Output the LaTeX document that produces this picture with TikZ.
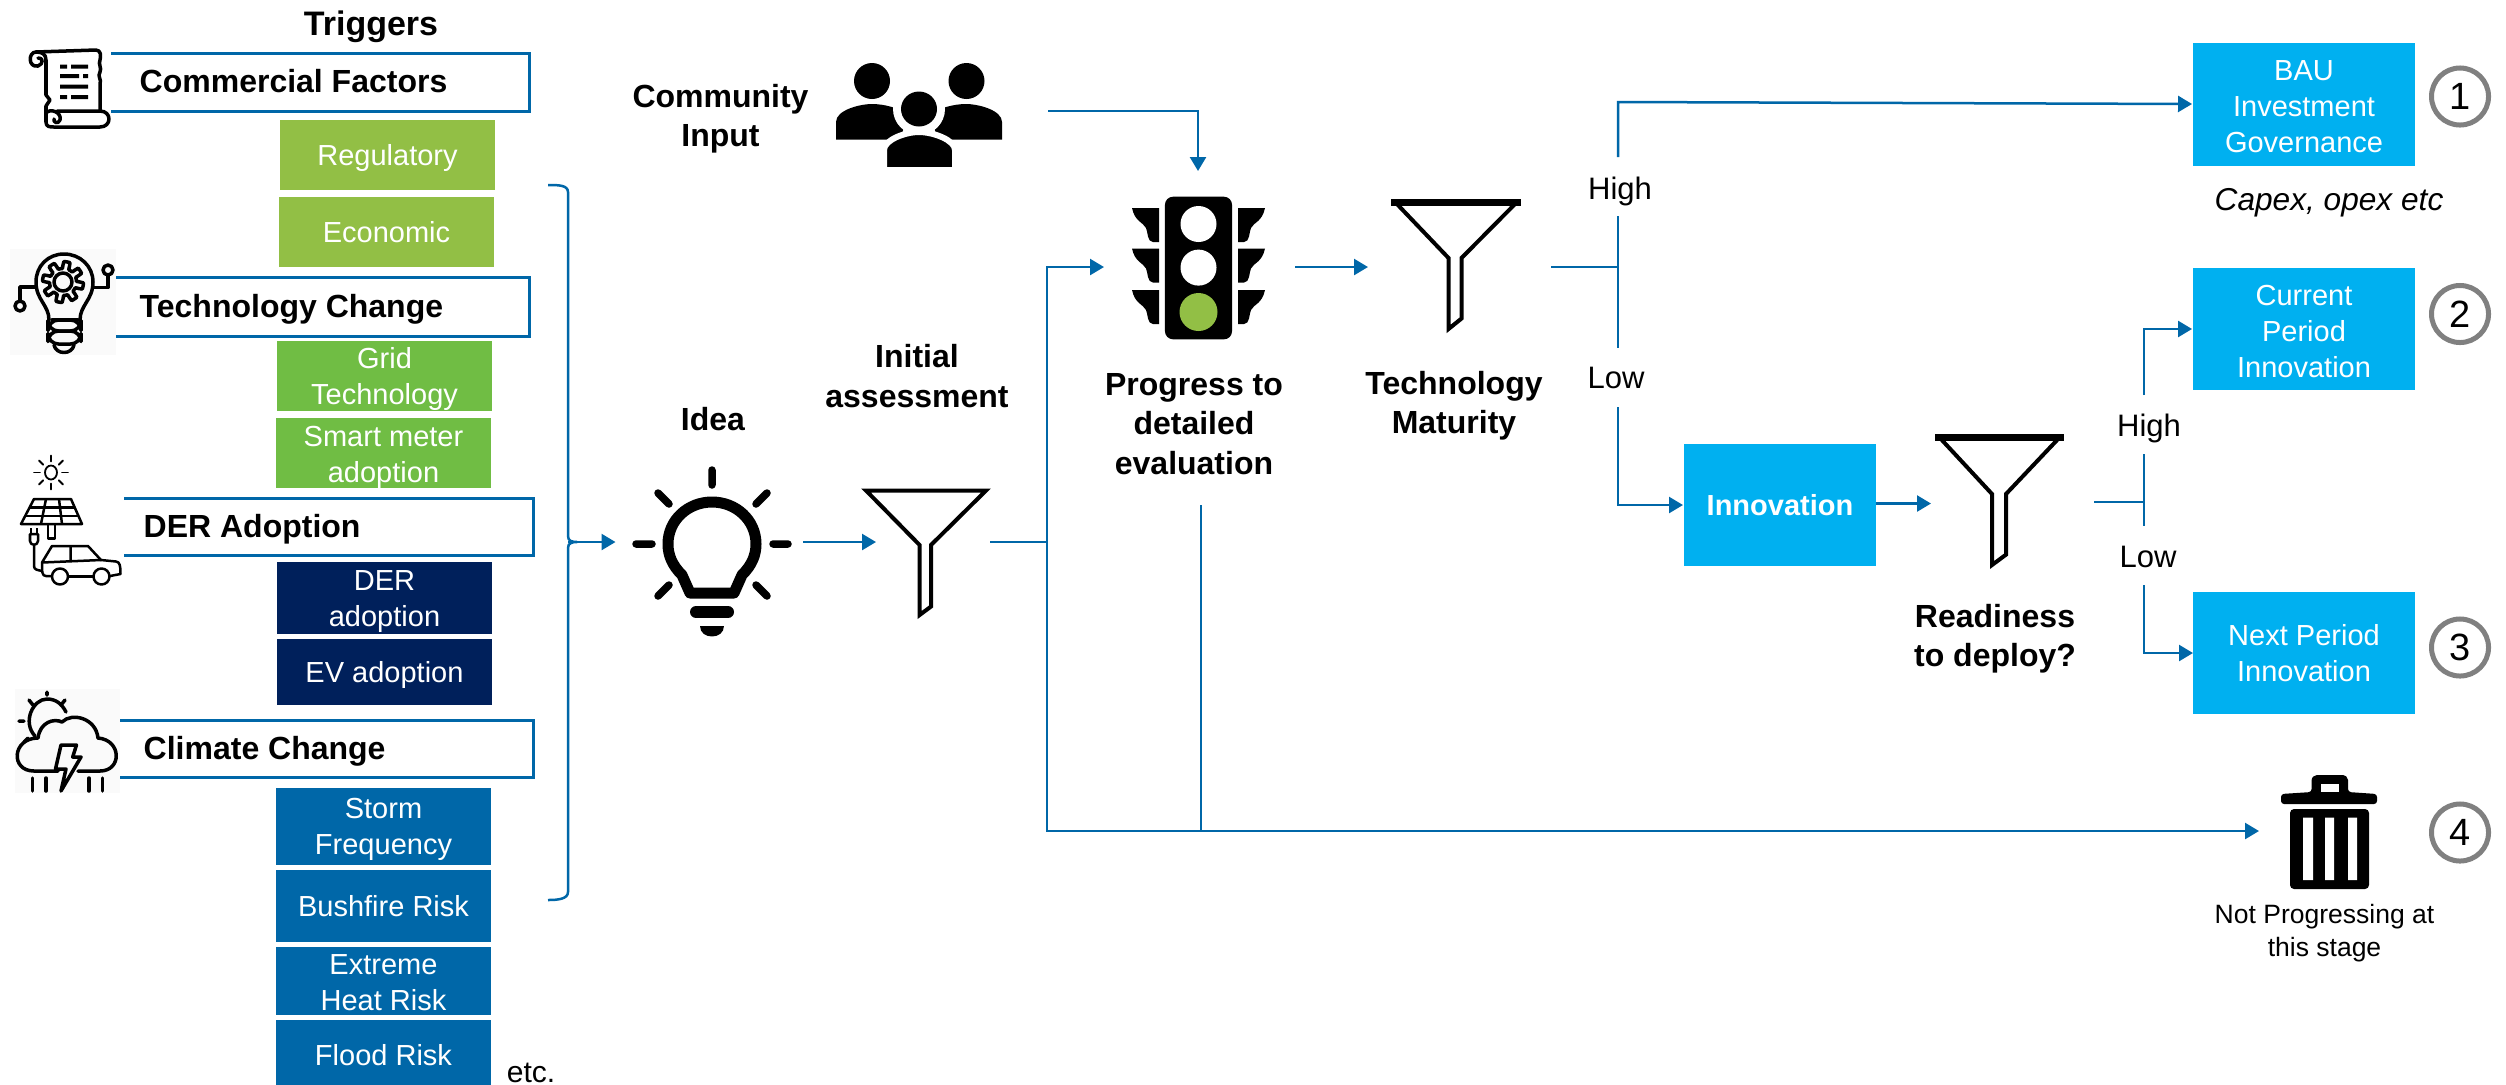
\documentclass[tikz,border=0pt]{standalone}
\usepackage{fontspec}
\setmainfont{Liberation Sans}
\usetikzlibrary{arrows.meta,calc}
\definecolor{greenA}{HTML}{92BF45}
\definecolor{greenB}{HTML}{70BD44}
\definecolor{navyC}{HTML}{00205B}
\definecolor{blueD}{HTML}{0067A8}
\definecolor{cyanE}{HTML}{00B0F0}
\definecolor{ringG}{HTML}{808080}
\newcommand{\tilestrut}{\rule[-3pt]{0pt}{12pt}}
\tikzset{
  boldtxt/.style={font=\fontsize{9.1}{11.2}\selectfont\bfseries,align=center,inner sep=0pt},
  headtxt/.style={font=\fontsize{9.1}{10.95}\selectfont\bfseries,anchor=west,inner sep=0pt},
  plaintxt/.style={font=\fontsize{8.82}{10.24}\selectfont,align=center,inner sep=0pt},
  tilebase/.style={inner sep=0pt,minimum width=2.15cm},
  tile/.style={tilebase,font=\fontsize{8.25}{10.24}\selectfont,text=white,align=center,
     execute at begin node=\tilestrut,execute at end node=\tilestrut},
  boxtxt/.style={font=\fontsize{8.25}{10.24}\selectfont,text=white,align=center,inner sep=0pt},
  outbase/.style={inner sep=0pt,fill=cyanE,minimum width=2.225cm,minimum height=1.22cm},
  headbox/.style={draw=blueD,line width=0.03cm},
  flowline/.style={draw=blueD,line width=0.025cm},
  flowarrow/.style={flowline,-{Triangle[length=0.14cm,width=0.16cm]}},
  funnelshape/.style={draw=black,line width=0.04cm,fill=white,line join=miter},
  iconline/.style={draw=black,line width=0.035cm,line cap=round,line join=round},
  numring/.style={circle,draw=ringG,line width=0.05cm,fill=white,inner sep=0pt,minimum size=0.57cm,font=\fontsize{10.8}{12}\selectfont},
}
\begin{document}
\begin{tikzpicture}[x=0.01cm,y=-0.01cm]
\useasboundingbox (0,0) rectangle (2506,1084);
\clip (0,0) rectangle (2506,1084);
\fill[white] (0,0) rectangle (2506,1084);

% ---- left column ----
\node[font=\fontsize{9.67}{11}\selectfont\bfseries,inner sep=0pt] (triggers) at (371,27) {Triggers};

\draw[headbox] (111,53) -- (529,53) -- (529,111) -- (111,111);
\node[headtxt] (commercial) at (139,81) {Commercial Factors};
\node[tile,fill=greenA,minimum height=0.70cm] (regulatory) at (387.5,155) {Regulatory};
\node[tile,fill=greenA,minimum height=0.70cm] (economic) at (386.5,232) {Economic};

\draw[headbox] (116,277.5) -- (529,277.5) -- (529,336) -- (116,336);
\node[headtxt] (techchange) at (139,309) {Technology Change};
\node[tilebase,fill=greenB,minimum height=0.70cm] (gridtech) at (384.5,376) {};
\node[boxtxt] (gridtechtxt) at (384.5,379) {Grid\\Technology};
\node[tilebase,fill=greenB,minimum height=0.70cm] (smartmeter) at (383.5,453) {};
\node[boxtxt] (smartmetertxt) at (383.5,457) {Smart meter\\adoption};

\draw[headbox] (124,498) -- (533,498) -- (533,555) -- (124,555);
\node[headtxt] (deradopt) at (143,529) {DER Adoption};
\node[tilebase,fill=navyC,minimum height=0.72cm] (derbox) at (384.5,598) {};
\node[boxtxt] (derboxtxt) at (384.5,602) {DER\\adoption};
\node[tile,fill=navyC,minimum height=0.665cm] (evbox) at (384.5,672) {EV adoption};

\draw[headbox] (120,720) -- (533,720) -- (533,777) -- (120,777);
\node[headtxt] (climate) at (143,751) {Climate Change};
\node[tilebase,fill=blueD,minimum height=0.77cm] (storm) at (383.5,826.5) {};
\node[boxtxt] (stormtxt) at (383.5,829.5) {Storm\\Frequency};
\node[tile,fill=blueD,minimum height=0.72cm] (bushfire) at (383.5,906) {Bushfire Risk};
\node[tilebase,fill=blueD,minimum height=0.68cm] (extreme) at (383.5,981) {};
\node[boxtxt] (extremetxt) at (383.5,983) {Extreme\\Heat Risk};
\fill[blueD] (276,1020) rectangle (491,1090);
\node[boxtxt] (flood) at (383.5,1055) {Flood Risk};
\node[font=\fontsize{8.54}{10}\selectfont,inner sep=0pt] (etc) at (531,1073) {etc.};

% scroll icon
\begin{scope}[iconline]
\draw (46,60) -- (46,95) -- (50,100) -- (46,106) -- (46,122) .. controls (46,127) and (50,127) .. (54,127) -- (100,127)
      .. controls (112,127) and (112,111) .. (100,111) -- (57,111);
\draw (36,52) -- (96,50) .. controls (101,50) and (101,56) .. (100,60) .. controls (98,64) and (102,68) .. (100,72) .. controls (97,76) and (102,80) .. (100,84) -- (100,111);
\draw (36,52) .. controls (28,52) and (28,68) .. (38,66) .. controls (44,64) and (43,57) .. (38,58);
\draw (46,60) .. controls (46,54) and (42,52) .. (36,52);
\draw (46,113) .. controls (50,108) and (62,112) .. (60,120) .. controls (58,125) and (53,122) .. (54,119);
\end{scope}
\fill[black] (60,64.5) rectangle (67,68.5) (71,64.5) rectangle (88,68.5)
  (60,74) rectangle (79,78) (83,74) rectangle (88,78)
  (60,84.5) rectangle (88,88.5)
  (60,95) rectangle (67,99) (71,95) rectangle (88,99);

% technology bulb icon
\fill[black!2] (10,249) rectangle (116,355);
\begin{scope}[iconline]
\draw (49,320) .. controls (49,305) and (36,300) .. (36,282) .. controls (36,266) and (48,254) .. (64,254)
      .. controls (80,254) and (93,266) .. (93,282) .. controls (93,300) and (80,305) .. (80,320);
\draw plot[samples=145,domain=0:360] ({63+(17+3.5*max(-1,min(1,3*sin(8*\x))))*cos(\x)},{282+(17+3.5*max(-1,min(1,3*sin(8*\x))))*sin(\x)}) -- cycle;
\draw (63,282) circle [radius=9];
\draw (52,320) -- (78,320);
\draw[rounded corners=3pt] (48,320) rectangle (81,331);
\draw[rounded corners=3pt] (48,331) rectangle (81,344);
\draw (54,345) .. controls (56,355) and (72,355) .. (74,345);
\draw (36,287) -- (20,287) -- (20,301);
\draw (20,306) circle [radius=5];
\draw (93,287.5) -- (108,287.5) -- (108,275);
\draw (108,270) circle [radius=5];
\end{scope}

% DER icon
\begin{scope}[draw=black,line width=0.018cm,line cap=round]
\draw (51,472.5) circle [x radius=6,y radius=7];
\foreach \a in {0,45,...,315} {\draw ($(51,472.5)+(\a:11)$) -- ($(51,472.5)+(\a:17)$);}
\end{scope}
\begin{scope}[draw=black,line width=0.025cm,line join=round]
\draw (34,499) -- (71,499) -- (82,524) -- (21,524) -- cycle;
\draw (30,507.5) -- (74.5,507.5) (25.5,516) -- (78.5,516);
\draw (46,499) -- (41,524) (59,499) -- (62,524);
\draw (48,524) -- (48,538.5) -- (55,538.5) -- (55,524);
\draw (34,545) -- (34,566) .. controls (34,570) and (38,570) .. (42,571);
\draw (30,534) -- (30,541) .. controls (30,546) and (38,546) .. (38,541) -- (38,534) -- cycle;
\draw (31,528) -- (31,534) (37,528) -- (37,534);
\draw (52,576) -- (46,576) .. controls (42,576) and (42,572) .. (42,562.5) -- (52,546) -- (88,546) -- (101,560) -- (116,561.5) .. controls (120,562) and (120.5,566) .. (120.5,574) -- (110,576);
\draw (70.5,546) -- (70.5,562) (42,562.5) -- (101,560);
\draw (68,576.5) -- (93,576.5);
\draw (60,576.5) circle [radius=8];
\draw (101.5,576.5) circle [radius=8];
\end{scope}

% climate icon
\fill[black!2] (14.5,689) rectangle (120,793);
\begin{scope}[iconline]
\draw (35,736) .. controls (22,722) and (33,699) .. (47,699) .. controls (56,699) and (62,704) .. (66,712);
\draw (47,692) -- (47,695) (29,700) -- (33,705) (65,700) -- (61,705) (19,721) -- (24,721) (24,742) -- (28,738);
\draw (58,771) -- (34,771) .. controls (10,771) and (12,738) .. (38,738) .. controls (40,722) and (54,718) .. (62,722)
   .. controls (72,712) and (96,718) .. (98,738) .. controls (122,740) and (122,771) .. (100,771) -- (78,771);
\draw (32.5,778) -- (32.5,791) (46,778) -- (46,791) (89,778) -- (89,791) (102.5,778) -- (102.5,791);
\draw (61,745) -- (76.5,745) -- (72.7,757) -- (81,757) -- (61,791) -- (66,769) -- (55.5,769) -- cycle;
\end{scope}

% bracket
\coordinate (brTip) at (568,542);
\coordinate (ideaIn) at (615.5,542);
\draw[flowline,line join=round] (548,185) .. controls (558,185) and (568,185) .. (568,192) -- (568,536)
   .. controls (568,541) and (572,542) .. (577,542) .. controls (572,542) and (568,543) .. (568,548)
   -- (568,892) .. controls (568,899) and (558,900) .. (548,900);
\draw[flowarrow] (brTip) -- (ideaIn);

% ---- idea ----
\node[boldtxt] (idea) at (713,419) {Idea};
\draw[black,line width=0.11cm,line join=round]
 (690,593) -- (682,575) .. controls (672,565) and (668,555) .. (668,544) .. controls (668,520) and (688,502) .. (712,502)
 .. controls (736,502) and (756,520) .. (756,544) .. controls (756,555) and (752,565) .. (742,575) -- (734,593) -- cycle;
\begin{scope}[draw=black,line width=0.075cm,line cap=round]
\draw (712,470) -- (712,485) (636,544) -- (652,544) (773,544) -- (788,544)
 (658,493) -- (669,504) (767,493) -- (756,504) (669,585) -- (658,596) (756,585) -- (767,596);
\end{scope}
\draw[black,line width=0.12cm,line cap=round] (696,612) -- (728,612);
\fill[black] (699.5,626) -- (724,626) .. controls (724,640) and (699.5,640) .. (699.5,626) -- cycle;

\coordinate (ideaOut) at (803,542);
\coordinate (funAIn) at (876,542);
\draw[flowarrow] (ideaOut) -- (funAIn);

% funnel A
\node[boldtxt] (initial) at (917,376) {Initial\\assessment};
\draw[funnelshape] (866,490.5) -- (986,490.5) -- (931,545) -- (931,606.5) -- (919.6,615) -- (919.6,545) -- cycle;
\coordinate (funAOut) at (990,542);
\coordinate (split) at (1047,542);
\coordinate (lightsIn) at (1104,267);
\coordinate (binIn) at (2259,831);
\draw[flowline] (funAOut) -- (split);
\draw[flowarrow] (split) |- (lightsIn);
\draw[flowarrow] (split) |- (binIn);

% ---- community ----
\node[boldtxt] (community) at (720.5,119) {Community\\Input};
\fill[black] (836,139.5) -- (836,122) .. controls (836,110) and (860,104) .. (872,104) .. controls (884,104) and (900,108) .. (908,115) -- (900,139.5) -- cycle;
\fill[black] (1002,139.5) -- (1002,122) .. controls (1002,110) and (978,104) .. (966,104) .. controls (954,104) and (938,108) .. (930,115) -- (938,139.5) -- cycle;
\fill[black] (872,81) circle [x radius=18,y radius=18];
\fill[black] (966.5,81) circle [x radius=18,y radius=18];
\fill[white] (919,109) circle [radius=26];
\fill[black] (919,109) circle [x radius=18,y radius=17.5];
\draw[white,line width=0.06cm,fill=black] (884,170) -- (884,150) .. controls (884,140) and (905,132) .. (919,132) .. controls (933,132) and (955,140) .. (955,150) -- (955,170) -- cycle;
\fill[white] (878,168) rectangle (962,175);

% ---- traffic light ----
\foreach \dy in {0,40.5,82} {
  \fill[black,shift={(0,\dy)}] (1132,208) -- (1159,208) -- (1159,242) -- (1153,242) .. controls (1147,242) and (1148,232) .. (1146,228) .. controls (1143,222) and (1135,222) .. (1132,208) -- cycle;
  \fill[black,shift={(2397,\dy)},xscale=-1] (1132,208) -- (1159,208) -- (1159,242) -- (1153,242) .. controls (1147,242) and (1148,232) .. (1146,228) .. controls (1143,222) and (1135,222) .. (1132,208) -- cycle;
}
\node[fill=black,rounded corners=0.08cm,minimum width=0.67cm,minimum height=1.425cm,inner sep=0pt] (lights) at (1198.5,268) {};
\fill[white] (1198.5,224) circle [radius=18];
\fill[white] (1198.5,267.6) circle [radius=18];
\fill[greenA] (1198.5,312) circle [radius=19];
\node[boldtxt] (progress) at (1194,424) {Progress to\\detailed\\evaluation};
\coordinate (commOut) at (1048,111);
\coordinate (lightsTop) at (1198,171);
\draw[flowarrow] (commOut) -| (lightsTop);
\coordinate (progDrop) at (1201,505);
\draw[flowline] (progDrop) -- (progDrop |- binIn);

% funnel B
\coordinate (lightsOut) at (1295,267);
\coordinate (funBIn) at (1368,267);
\draw[flowarrow] (lightsOut) -- (funBIn);
\draw[funnelshape] (1396,203) -- (1516,203) -- (1461.5,258) -- (1461.5,318.5) -- (1448.5,329) -- (1448.5,258) -- cycle;
\draw[black,line width=0.07cm] (1391,202) -- (1521,202);
\node[boldtxt] (techmat) at (1454,406) {Technology\\Maturity};

\coordinate (funBOut) at (1551,267);
\coordinate (hiA) at (1618,267);
\coordinate (hiAtop) at (1618,216);
\coordinate (hiAbot) at (1618,348);
\coordinate (hiUp) at (1618,157);
\coordinate (hiCorner) at (1618,102);
\coordinate (bauIn) at (2192,104);
\coordinate (loDown) at (1618,407);
\coordinate (innovIn) at (1683,505);
\draw[flowline] (funBOut) -- (hiA);
\draw[flowline] (hiAtop) -- (hiAbot);
\draw[flowarrow] (hiUp) -- (hiCorner) -- (bauIn);
\draw[flowarrow] (loDown) |- (innovIn);
\node[plaintxt] (highA) at (1620,191) {High};
\node[plaintxt] (lowA) at (1616,378) {Low};

% innovation
\node[fill=cyanE,font=\fontsize{8.25}{10}\selectfont\bfseries,text=white,inner sep=0pt,minimum width=1.92cm,minimum height=1.22cm] (innov) at (1780,505) {Innovation};
\coordinate (innovOut) at (1876,503.5);
\coordinate (funCIn) at (1931,503.5);
\draw[flowarrow] (innovOut) -- (funCIn);

% funnel C
\draw[funnelshape] (1940,438) -- (2059,438) -- (2006,494) -- (2006,554.6) -- (1992,565) -- (1992,494) -- cycle;
\draw[black,line width=0.07cm] (1935,437) -- (2064,437);
\node[boldtxt] (readiness) at (1995,639) {Readiness\\to deploy?};

\coordinate (funCOut) at (2094,502);
\coordinate (hiB) at (2144,502);
\coordinate (hiBtop) at (2144,454);
\coordinate (hiBbot) at (2144,526);
\coordinate (hiBup) at (2144,395);
\coordinate (curIn) at (2192,329);
\coordinate (loBdown) at (2144,585);
\coordinate (nextIn) at (2193,653);
\draw[flowline] (funCOut) -- (hiB);
\draw[flowline] (hiBtop) -- (hiBbot);
\draw[flowarrow] (hiBup) |- (curIn);
\draw[flowarrow] (loBdown) |- (nextIn);
\node[plaintxt] (highB) at (2149,428) {High};
\node[plaintxt] (lowB) at (2148,557) {Low};

% outcomes
\node[outbase] (bau) at (2304,104.5) {};
\node[boxtxt] (bautxt) at (2304,106.5) {BAU\\Investment\\Governance};
\node[font=\fontsize{9}{10}\selectfont\itshape,inner sep=0pt] (capex) at (2329,203) {Capex, opex etc};
\node[outbase] (current) at (2304,329) {};
\node[boxtxt] (currenttxt) at (2304,331.5) {Current\\Period\\Innovation};
\node[outbase] (nextp) at (2304,653) {};
\node[boxtxt] (nextptxt) at (2304,653) {Next Period\\Innovation};
\node[numring] (n1) at (2460,96.5) {1};
\node[numring] (n2) at (2460,314) {2};
\node[numring] (n3) at (2460,647.5) {3};
\node[numring] (n4) at (2460,832.5) {4};

% bin
\fill[black,rounded corners=0.03cm] (2281,804) -- (2281,794) -- (2311.6,792) -- (2311.6,783) .. controls (2311.6,777) and (2315,775) .. (2320,775) -- (2340,775) .. controls (2345,775) and (2348,777) .. (2348,783) -- (2348,792) -- (2377,794) -- (2377,804) -- cycle;
\fill[white] (2321,783.6) rectangle (2339,792);
\fill[black,rounded corners=0.04cm] (2290,809) -- (2369,809) -- (2369,889) -- (2290,889) -- cycle;
\fill[white] (2303,817.6) rectangle (2313,880) (2325,817.6) rectangle (2334,880) (2348,817.6) rectangle (2357,880);
\node[font=\fontsize{7.54}{9.2}\selectfont,align=center,inner sep=0pt] (notprog) at (2324.5,933) {Not Progressing at\\this stage};
\end{tikzpicture}
\end{document}
